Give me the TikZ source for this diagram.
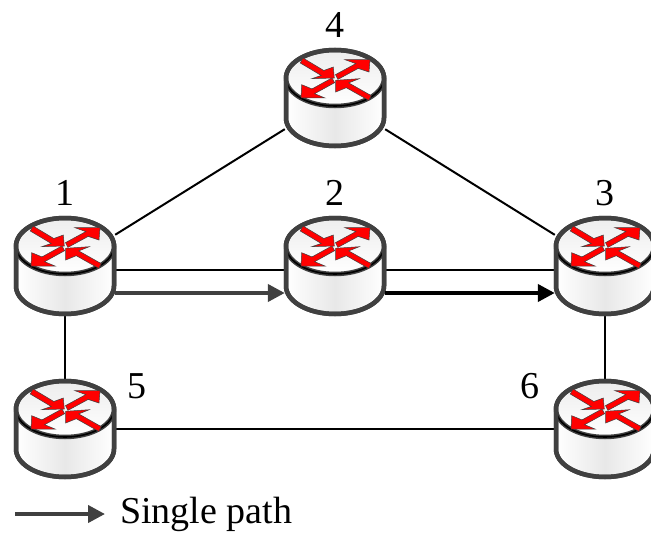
\documentclass[tikz,border=0pt]{standalone}
\usepackage{fontspec}
\setmainfont{Liberation Serif}
\usetikzlibrary{arrows.meta}

\definecolor{rimgray}{HTML}{404040}
\definecolor{capgray}{HTML}{EDEDED}
\definecolor{sidegray}{HTML}{E8E8E8}

\tikzset{
  router/.pic={
    \draw [rim, left color=white, right color=white, middle color=sidegray]
      (-4.9,2) -- (-4.9,-2) arc (180:360:4.9 and 2.8) -- (4.9,2) -- cycle;
    \draw [rim, top color=capgray, bottom color=white] (0,2) ellipse (4.9 and 2.8);
    \draw [black, line width=1.6pt] (-4.9,2) arc (180:360:4.9 and 2.8);
    \draw [rim, fill=none] (-4.9,2) arc (180:0:4.9 and 2.8) -- (4.9,-2) arc (360:180:4.9 and 2.8) -- cycle;
    \draw [wing] (-3.2,4) -- (-1.12,2.75) -- (-.17,3.1) -- (-.07,2) -- (-2.33,1.93) -- (-1.38,2.25) -- (-3.47,3.5) -- cycle;
    \draw [wing] (.05,2.34) -- (2.08,3.44) -- (1,3.83) -- (3.5,3.83) -- (3.4,2.6) -- (2.32,2.96) -- (.29,1.86) -- cycle;
    \draw [wing] (-.3,2.01) -- (-2.3,.91) -- (-3.33,1.33) -- (-3.4,0) -- (-1,0) -- (-2.04,.43) -- (-.04,1.53) -- cycle;
    \draw [wing] (3.62,.24) -- (1.37,1.51) -- (2.43,1.93) -- (.07,1.77) -- (.07,.6) -- (1.13,1.03) -- (3.38,-.24) -- cycle;
  },
  rim/.style={draw=rimgray, line width=4.5pt},
  wing/.style={draw=rimgray, fill=red, line width=.5pt, line join=miter},
  routerbox/.style={inner sep=0pt, minimum width=100pt, minimum height=100pt},
  tag/.style={inner sep=0pt, font=\fontsize{38}{40}\selectfont},
  link/.style={black, line width=2pt},
  flow/.style={line width=4pt, -{Triangle[length=17pt,width=17pt]}},
}

\begin{document}
\begin{tikzpicture}[x=10pt,y=10pt]
\useasboundingbox (0,0) rectangle (65.1,-53.5);
\node [routerbox] (r1) at (6.5,-26.6) {};
\node [routerbox] (r2) at (33.5,-26.6) {};
\node [routerbox] (r3) at (60.5,-26.6) {};
\node [routerbox] (r4) at (33.5,-9.8) {};
\node [routerbox] (r5) at (6.5,-42.9) {};
\node [routerbox] (r6) at (60.5,-42.9) {};
\node [tag] (lab1) at (6.5,-19.3) {1};
\node [tag] (lab2) at (33.5,-19.3) {2};
\node [tag] (lab3) at (60.5,-19.3) {3};
\node [tag] (lab4) at (33.5,-2.5) {4};
\node [tag] (lab5) at (13.7,-38.6) {5};
\node [tag] (lab6) at (53,-38.6) {6};
\coordinate (p0) at (1.5,-51.4);
\node [tag, anchor=west] (legend) at (12,-51.4) {Single path};
\draw [link] (r1) -- (r4);
\draw [link] (r4) -- (r3);
\draw [link] (r1) -- (r5);
\draw [link] (r3) -- (r6);
\draw [link] (r5) -- (r6);
\draw [link] ([yshift=-4pt]r1.east) -- ([yshift=-4pt]r2.west);
\draw [link] ([yshift=-4pt]r2.east) -- ([yshift=-4pt]r3.west);
\draw (r1) pic {router};
\draw (r2) pic {router};
\draw (r3) pic {router};
\draw (r4) pic {router};
\draw (r5) pic {router};
\draw (r6) pic {router};
\draw [flow, rimgray] ([yshift=-27pt]r1.east) -- ([yshift=-27pt]r2.west);
\draw [flow, black] ([yshift=-27pt]r2.east) -- ([yshift=-27pt]r3.west);
\draw [flow, rimgray, shorten >=15pt] (p0) -- (legend.west);
\end{tikzpicture}
\end{document}
